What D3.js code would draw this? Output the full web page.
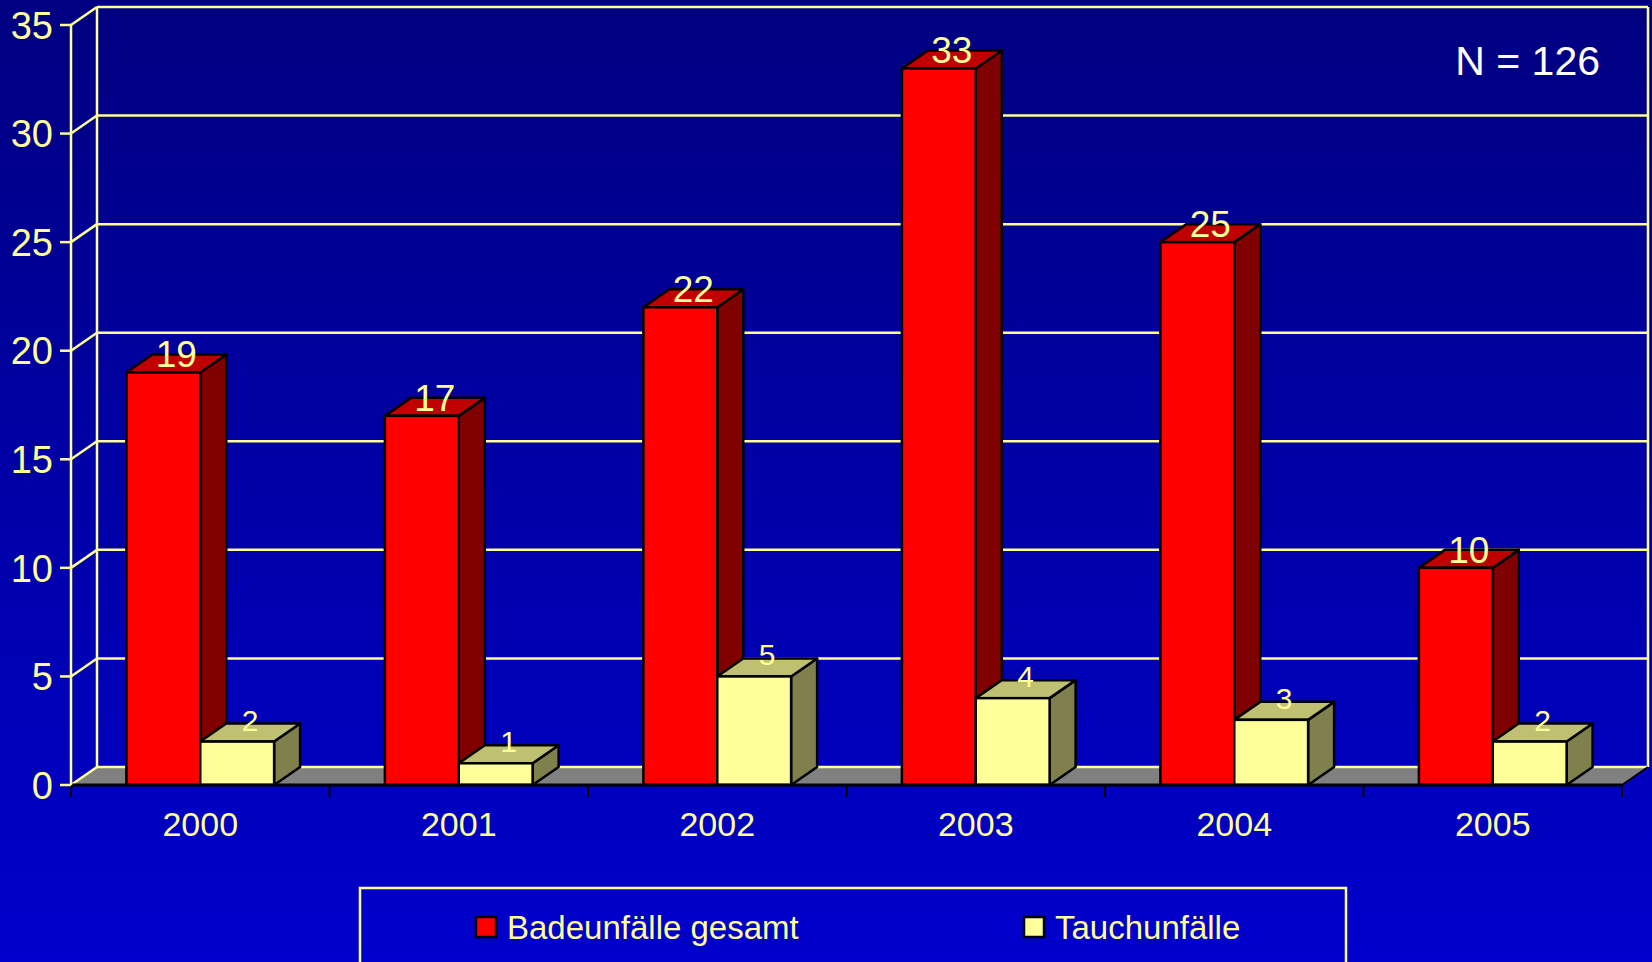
<!DOCTYPE html>
<html>
<head>
<meta charset="utf-8">
<script src="https://cdn.jsdelivr.net/npm/d3@7"></script>
<style>
  body { margin: 0; background: #0000cc; }
  svg { display: block; }
  text { font-family: Tahoma, "Liberation Sans", Arial, sans-serif; }
</style>
</head>
<body>
<div id="chart"></div>
<script>
// data
const years = ["2000", "2001", "2002", "2003", "2004", "2005"];
const badeunfaelle = [19, 17, 22, 33, 25, 10];
const tauchunfaelle = [2, 1, 5, 4, 3, 2];
const seriesNames = ["Badeunfälle gesamt", "Tauchunfälle"];
const yTicks = [0, 5, 10, 15, 20, 25, 30, 35];
const totalLabel = "N = 126";

const config = {
  width: 1652,
  height: 962,
  left: 71,
  right: 1622,
  bottom: 785,
  top: 25,
  depthX: 26,
  depthY: -18,
};

// face colours for each series: front, top, side
const palette = [
  { front: "#ff0000", top: "#c00000", side: "#800000" },
  { front: "#ffff99", top: "#c0c073", side: "#80804d" },
];
const lineYellow = "#ffff99";
const gridWidth = 2.5;
const edgeWidth = 2.5;

const svg = d3
  .select("#chart")
  .append("svg")
  .attr("width", config.width)
  .attr("height", config.height);

const defs = svg.append("defs");
const grad = defs
  .append("linearGradient")
  .attr("id", "bg")
  .attr("x1", 0)
  .attr("y1", 0)
  .attr("x2", 0)
  .attr("y2", 1);
grad.append("stop").attr("offset", "0%").attr("stop-color", "#000080");
grad.append("stop").attr("offset", "100%").attr("stop-color", "#0000cc");

svg
  .append("rect")
  .attr("width", config.width)
  .attr("height", config.height)
  .attr("fill", "url(#bg)");

const x = d3.scaleBand().domain(years).range([config.left, config.right]);
const xSeries = d3
  .scaleBand()
  .domain([0, 1])
  .range([0, x.bandwidth()])
  .paddingInner(0)
  .paddingOuter(0.75);
const y = d3.scaleLinear().domain([0, 35]).range([config.bottom, config.top]);

const dx = config.depthX;
const dy = config.depthY;

// floor
const floorY = y(0);
svg
  .append("path")
  .attr(
    "d",
    `M${config.left},${floorY} L${config.right},${floorY} L${config.right + dx},${floorY + dy} L${config.left + dx},${floorY + dy} Z`
  )
  .attr("fill", "#808080");

// gridlines on back wall + left side wall
const grid = svg.append("g");
yTicks.forEach((t) => {
  grid
    .append("line")
    .attr("x1", config.left + dx)
    .attr("x2", config.right + dx)
    .attr("y1", y(t) + dy)
    .attr("y2", y(t) + dy)
    .attr("stroke", lineYellow)
    .attr("stroke-width", gridWidth);
  grid
    .append("line")
    .attr("x1", config.left)
    .attr("x2", config.left + dx)
    .attr("y1", y(t))
    .attr("y2", y(t) + dy)
    .attr("stroke", lineYellow)
    .attr("stroke-width", gridWidth);
});
// wall edges
grid
  .append("line")
  .attr("x1", config.left + dx)
  .attr("x2", config.left + dx)
  .attr("y1", y(35) + dy)
  .attr("y2", y(0) + dy)
  .attr("stroke", lineYellow)
  .attr("stroke-width", gridWidth);
grid
  .append("line")
  .attr("x1", config.right + dx)
  .attr("x2", config.right + dx)
  .attr("y1", y(35) + dy)
  .attr("y2", y(0) + dy)
  .attr("stroke", lineYellow)
  .attr("stroke-width", gridWidth);
svg
  .append("line")
  .attr("x1", config.right)
  .attr("x2", config.right + dx)
  .attr("y1", floorY)
  .attr("y2", floorY + dy)
  .attr("stroke", "#000")
  .attr("stroke-width", 2);

// bars
const rows = [];
years.forEach((yr, i) => {
  [badeunfaelle[i], tauchunfaelle[i]].forEach((v, s) => {
    rows.push({ year: yr, series: s, value: v });
  });
});

const bars = svg
  .append("g")
  .selectAll("g.bar")
  .data(rows)
  .join("g")
  .attr("class", "bar");

bars.each(function (d) {
  const g = d3.select(this);
  const x0 = x(d.year) + xSeries(d.series);
  const x1 = x0 + xSeries.bandwidth();
  const yt = y(d.value);
  const yb = y(0);
  const c = palette[d.series];

  g.append("path")
    .attr("d", `M${x1},${yb} L${x1 + dx},${yb + dy} L${x1 + dx},${yt + dy} L${x1},${yt} Z`)
    .attr("fill", c.side)
    .attr("stroke", "#000")
    .attr("stroke-width", edgeWidth)
    .attr("stroke-linejoin", "round");
  g.append("path")
    .attr("d", `M${x0},${yt} L${x0 + dx},${yt + dy} L${x1 + dx},${yt + dy} L${x1},${yt} Z`)
    .attr("fill", c.top)
    .attr("stroke", "#000")
    .attr("stroke-width", edgeWidth)
    .attr("stroke-linejoin", "round");
  g.append("rect")
    .attr("x", x0)
    .attr("y", yt)
    .attr("width", x1 - x0)
    .attr("height", yb - yt)
    .attr("fill", c.front)
    .attr("stroke", "#000")
    .attr("stroke-width", edgeWidth);
});

// value labels
svg
  .append("g")
  .selectAll("text")
  .data(rows)
  .join("text")
  .attr("x", (d) => x(d.year) + xSeries(d.series) + xSeries.bandwidth() / 2 + dx / 2)
  .attr("y", (d) => y(d.value) - (d.series === 0 ? 5 : 11))
  .attr("text-anchor", "middle")
  .attr("fill", lineYellow)
  .style("font-size", (d) => (d.series === 0 ? "37px" : "30px"))
  .text((d) => d.value);

// front x axis
const xAxisG = svg.append("g");
xAxisG
  .append("line")
  .attr("x1", config.left)
  .attr("x2", config.right)
  .attr("y1", floorY)
  .attr("y2", floorY)
  .attr("stroke", "#000")
  .attr("stroke-width", 3);
const tickXs = years.map((yr) => x(yr)).concat([config.right]);
xAxisG
  .selectAll("line.tick")
  .data(tickXs)
  .join("line")
  .attr("class", "tick")
  .attr("x1", (d) => d)
  .attr("x2", (d) => d)
  .attr("y1", floorY)
  .attr("y2", floorY + 12)
  .attr("stroke", "#000")
  .attr("stroke-width", 2);
xAxisG
  .selectAll("text")
  .data(years)
  .join("text")
  .attr("x", (d) => x(d) + x.bandwidth() / 2)
  .attr("y", floorY + 51)
  .attr("text-anchor", "middle")
  .attr("fill", lineYellow)
  .style("font-size", "34px")
  .text((d) => d);

// y axis
const yAxisG = svg.append("g");
yAxisG
  .append("line")
  .attr("x1", config.left)
  .attr("x2", config.left)
  .attr("y1", y(35))
  .attr("y2", floorY)
  .attr("stroke", lineYellow)
  .attr("stroke-width", gridWidth);
yAxisG
  .selectAll("line.tick")
  .data(yTicks)
  .join("line")
  .attr("class", "tick")
  .attr("x1", config.left - 11)
  .attr("x2", config.left)
  .attr("y1", (d) => y(d))
  .attr("y2", (d) => y(d))
  .attr("stroke", lineYellow)
  .attr("stroke-width", gridWidth);
yAxisG
  .selectAll("text")
  .data(yTicks)
  .join("text")
  .attr("x", 53)
  .attr("y", (d) => y(d))
  .attr("dy", "0.36em")
  .attr("text-anchor", "end")
  .attr("fill", lineYellow)
  .style("font-size", "38px")
  .text((d) => d);

// N label
svg
  .append("text")
  .attr("x", 1600)
  .attr("y", 75)
  .attr("text-anchor", "end")
  .attr("fill", "#ffffff")
  .style("font-family", "'Liberation Sans', Arial, sans-serif")
  .style("font-size", "41px")
  .text(totalLabel);

// legend
const legend = svg.append("g");
legend
  .append("rect")
  .attr("x", 360)
  .attr("y", 888)
  .attr("width", 986)
  .attr("height", 100)
  .attr("fill", "none")
  .attr("stroke", lineYellow)
  .attr("stroke-width", gridWidth);
const legendX = [476, 1024];
seriesNames.forEach((name, i) => {
  legend
    .append("rect")
    .attr("x", legendX[i])
    .attr("y", 917)
    .attr("width", 20)
    .attr("height", 20)
    .attr("fill", palette[i].front)
    .attr("stroke", "#000")
    .attr("stroke-width", 2.5);
  legend
    .append("text")
    .attr("x", legendX[i] + 31)
    .attr("y", 939)
    .attr("fill", lineYellow)
    .style("font-size", "33px")
    .text(name);
});
</script>
</body>
</html>
